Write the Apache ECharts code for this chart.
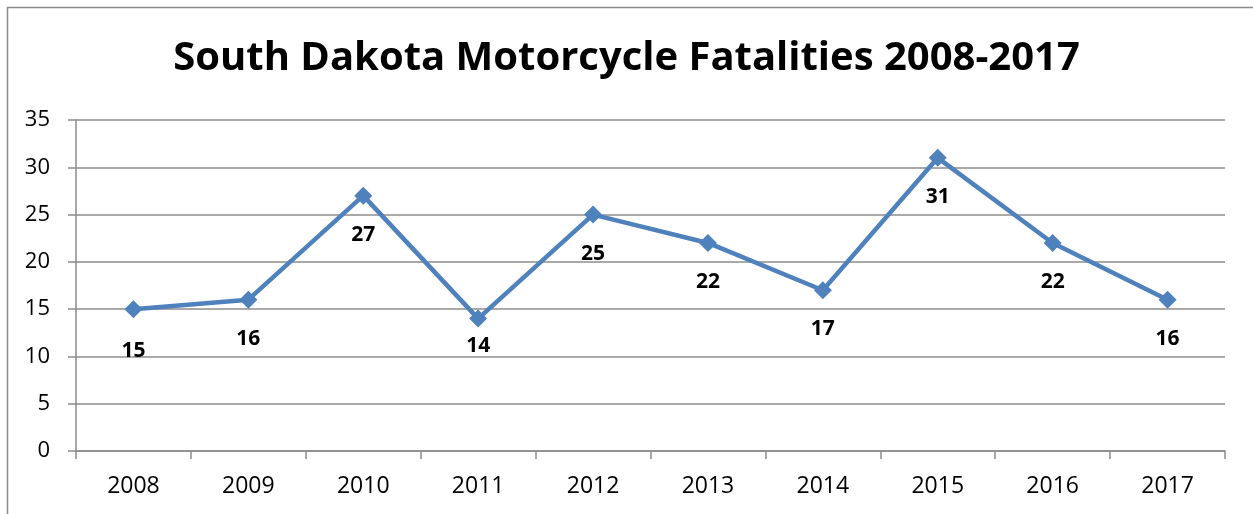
<!DOCTYPE html>
<html><head><meta charset="utf-8">
<script src="https://cdn.jsdelivr.net/npm/echarts@6/dist/echarts.min.js"></script>
<style>html,body{margin:0;padding:0;background:#fff}#c{width:1253px;height:514px}</style>
</head><body><div id="c"></div>
<script>
const years = ['2008','2009','2010','2011','2012','2013','2014','2015','2016','2017'];
const fatalities = [15,16,27,14,25,22,17,31,22,16];
const labelDistances = [22,20,20,8,20,20,19,20,20,20];
const titleText = 'South Dakota Motorcycle Fatalities 2008-2017';

const chart = echarts.init(document.getElementById('c'));
const FONT = '"Open Sans", "Noto Sans", sans-serif';
chart.setOption({
  animation: false,
  backgroundColor: '#fff',
  graphic: [{type:'rect', shape:{x:7.5,y:7.5,width:1400,height:700}, style:{fill:'none', stroke:'#8c8c8c', lineWidth:1.5}, silent:true}],
  title: {text: titleText, left: 'center', top: 34, textStyle:{fontFamily: FONT, fontWeight:'bold', fontSize:40, color:'#000'}},
  grid: {left: 76, right: 28, top: 120, bottom: 63, containLabel:false},
  xAxis: {type:'category', data: years, boundaryGap:true,
    axisLine:{lineStyle:{color:'#8c8c8c', width:1.5}},
    axisTick:{show:true, length:8, lineStyle:{color:'#8c8c8c', width:1.5}},
    axisLabel:{fontFamily: FONT, fontSize:23, color:'#000', margin:24}},
  yAxis: {type:'value', min:0, max:35, interval:5,
    axisLine:{show:true, lineStyle:{color:'#8c8c8c', width:1.5}},
    axisTick:{show:true, length:8, lineStyle:{color:'#8c8c8c', width:1.5}},
    splitLine:{lineStyle:{color:'#8c8c8c', width:1.5}},
    axisLabel:{fontFamily: FONT, fontSize:22, color:'#000', margin:26}},
  series: [{type:'line', data: fatalities.map((v,i)=>({value:v, label:{distance: labelDistances[i]}})),
    symbol:'diamond', symbolSize:18,
    lineStyle:{color:'#4F81BD', width:4.5},
    itemStyle:{color:'#4F81BD'},
    label:{show:true, position:'bottom', fontFamily: FONT, fontWeight:'bold', fontSize:21, color:'#000'}}]
});
</script></body></html>
